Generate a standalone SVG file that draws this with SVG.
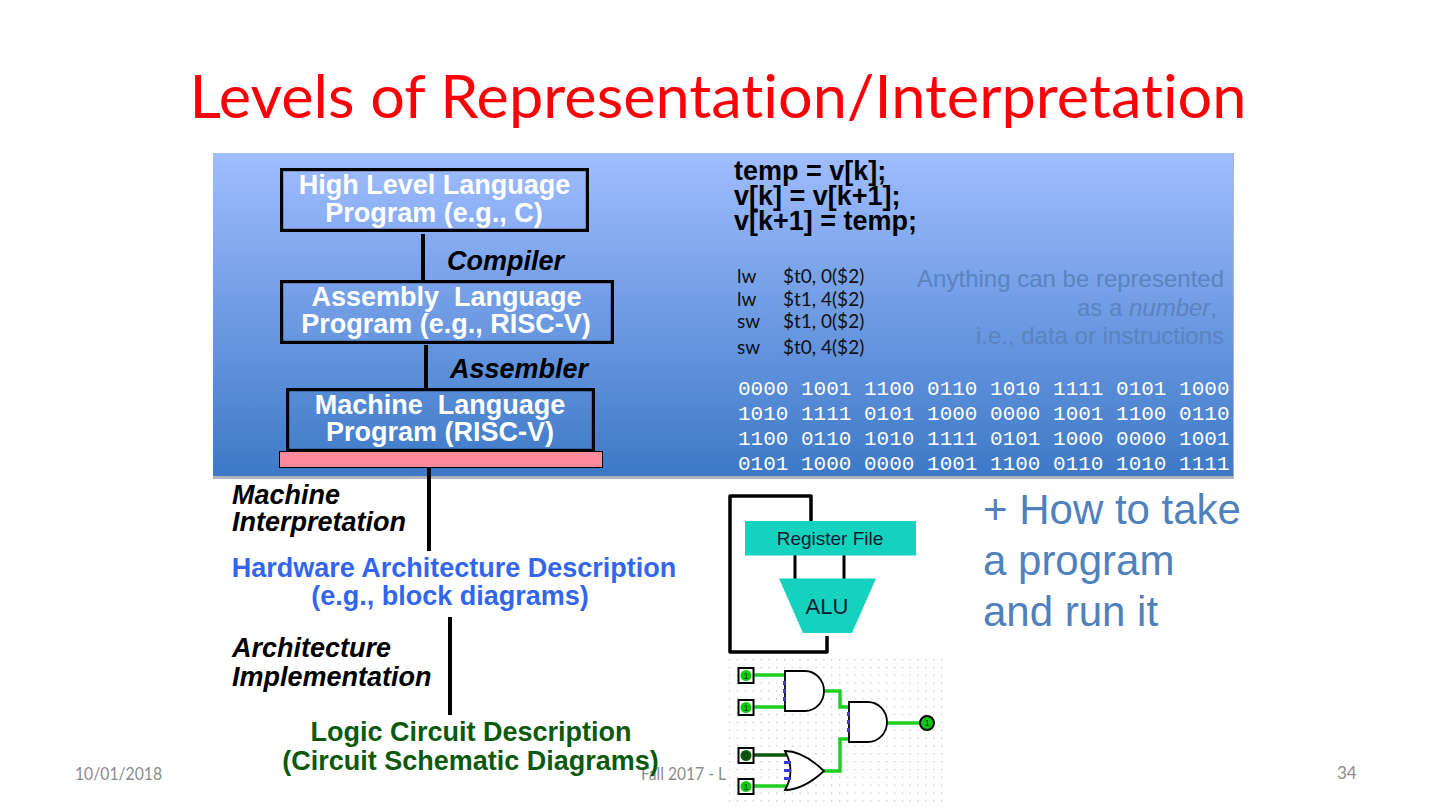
<svg xmlns="http://www.w3.org/2000/svg" width="1440" height="810" viewBox="0 0 1440 810">
<style>
.s{font-family:"Liberation Sans",Arial,sans-serif}
.b{font-family:"Liberation Sans",Arial,sans-serif;font-weight:700;font-size:27px}
.w{fill:#fff;text-anchor:middle}
.i{font-style:italic;fill:#000}
.box{fill:none;stroke:#000;stroke-width:3.2}
.lato{font-family:Lato,"Open Sans",sans-serif}
.asm{font-family:Lato,sans-serif;font-size:19px;fill:#111}
.bin{font-family:"Liberation Mono",monospace;font-size:21px;fill:#fff}
.c{stroke:#000;stroke-width:4;fill:none}
.g{stroke:#1fcf1f;stroke-width:3.5;fill:none}
.gate{fill:#fff;stroke:#000;stroke-width:1.8}
.pin{fill:#3a3ad0}
.foot{font-family:Lato,sans-serif;font-size:17px;fill:#8b8b8b}
.d{font-family:"Liberation Sans",sans-serif;font-size:9px;fill:#0a3a0a;text-anchor:middle}
</style>
<defs>
<linearGradient id="bg" x1="0" y1="0" x2="0" y2="1"><stop offset="0" stop-color="#a0bdff"/><stop offset="1" stop-color="#3d79c7"/></linearGradient>
<pattern id="dots" width="7.85" height="7.85" patternUnits="userSpaceOnUse" x="729" y="659"><rect x="0" y="0" width="1.2" height="1.2" fill="#bdbdbd"/></pattern>
</defs>
<rect width="1440" height="810" fill="#fff"/>
<text id="title" x="718" y="118" text-anchor="middle" class="lato" font-size="60" fill="#fb0007" textLength="1057" lengthAdjust="spacingAndGlyphs" style="font-variant-ligatures:none">Levels of Representation/Interpretation</text>
<text id="date" x="75" y="780" class="foot" textLength="87" lengthAdjust="spacingAndGlyphs">10/01/2018</text>
<text id="course" x="641" y="780" class="foot" textLength="85" lengthAdjust="spacingAndGlyphs">Fall 2017 - L</text>
<text id="page" x="1337" y="779" class="foot">34</text>
<g id="panel">
<rect x="213" y="153" width="1021" height="326" fill="#b0b4b8"/>
<rect x="213" y="153" width="1020" height="323" fill="url(#bg)"/>
</g>
<g id="connectors">
<path class="c" d="M423 234V280M426 345V388M429 468V551M450 617V715"/>
</g>
<g id="high-level">
<rect class="box" x="281.600" y="169.600" width="305.800" height="60.800"/>
<text class="b w" x="434.500" y="194">High Level Language</text>
<text class="b w" x="434" y="222">Program (e.g., C)</text>
</g>
<g id="compiler"><text class="b i" x="447" y="270">Compiler</text></g>
<g id="assembly">
<rect class="box" x="281.600" y="281.600" width="330.800" height="60.800"/>
<text class="b w" x="446.500" y="306">Assembly&#160; Language</text>
<text class="b w" x="446" y="333">Program (e.g., RISC-V)</text>
</g>
<g id="assembler"><text class="b i" x="450" y="378">Assembler</text></g>
<g id="machine">
<rect class="box" x="287.600" y="389.600" width="305.800" height="60.800"/>
<text class="b w" x="440" y="414">Machine&#160; Language</text>
<text class="b w" x="440" y="441">Program (RISC-V)</text>
</g>
<g id="machine-bar"><rect x="279.500" y="451.500" width="323" height="16" fill="#ff8a9c" stroke="#000" stroke-width="1"/></g>
<g id="hll-code" class="s" font-weight="700" font-size="27" fill="#000">
<text x="734" y="180">temp = v[k];</text>
<text x="734" y="205">v[k] = v[k+1];</text>
<text x="734" y="230">v[k+1] = temp;</text>
</g>
<g id="asm-code" class="asm">
<text x="737" y="283">lw</text><text x="783" y="283">$t0, 0($2)</text>
<text x="737" y="306">lw</text><text x="783" y="306">$t1, 4($2)</text>
<text x="737" y="328">sw</text><text x="783" y="328">$t1, 0($2)</text>
<text x="737" y="354">sw</text><text x="783" y="354">$t0, 4($2)</text>
</g>
<g id="number-note" class="s" font-size="24" fill="#5b83bf" text-anchor="end">
<text x="1224" y="287">Anything can be represented</text>
<text x="1217" y="316">as a <tspan font-style="italic">number</tspan>,</text>
<text x="1224" y="344">i.e., data or instructions</text>
</g>
<g id="binary" class="bin">
<text x="738" y="395">0000 1001 1100 0110 1010 1111 0101 1000</text>
<text x="738" y="420">1010 1111 0101 1000 0000 1001 1100 0110</text>
<text x="738" y="445">1100 0110 1010 1111 0101 1000 0000 1001</text>
<text x="738" y="470">0101 1000 0000 1001 1100 0110 1010 1111</text>
</g>
<g id="machine-interp"><text class="b i" x="232" y="504">Machine</text><text class="b i" x="232" y="531">Interpretation</text></g>
<g id="hardware" class="b" fill="#3366ee" text-anchor="middle">
<text x="454" y="577">Hardware Architecture Description</text>
<text x="450" y="605">(e.g., block diagrams)</text>
</g>
<g id="arch-impl"><text class="b i" x="232" y="657">Architecture</text><text class="b i" x="232" y="686">Implementation</text></g>
<g id="take-program" class="s" font-size="42" fill="#4f81bd">
<text x="983" y="524">+ How to take</text>
<text x="983" y="575">a program</text>
<text x="983" y="626">and run it</text>
</g>
<g id="logic-circuit" class="b" fill="#0b5a0b" text-anchor="middle">
<text x="471" y="741">Logic Circuit Description</text>
<text x="470.500" y="770">(Circuit Schematic Diagrams)</text>
</g>
<g id="datapath">
<path d="M811 521V496H730V652H827V636" fill="none" stroke="#000" stroke-width="3.500" stroke-linejoin="round"/>
<path d="M795 555V579M844 555V579" stroke="#000" stroke-width="3" fill="none"/>
<rect x="745" y="521" width="171" height="34.500" fill="#14d2bd"/>
<path d="M779 578.500H876L852 633H803Z" fill="#14d2bd"/>
<text class="s" x="830" y="545" text-anchor="middle" font-size="19" fill="#0a1a30">Register File</text>
<text class="s" x="827" y="614" text-anchor="middle" font-size="22" fill="#0a1a30">ALU</text>
</g>
<g id="circuit">
<rect x="727" y="656" width="219" height="154" fill="#fff"/>
<rect x="728" y="658" width="218" height="148" fill="url(#dots)"/>
<path class="g" d="M754 675H785M754 707H785M824 691H840V707H849M887 723H920M754 786H790M824 771H840V739H849"/>
<path d="M754 755H787" stroke="#0a5a0a" stroke-width="3.500" fill="none"/>
<g fill="#fff" stroke="#000" stroke-width="2">
<rect x="738.500" y="668" width="15" height="15"/><rect x="738.500" y="700" width="15" height="15"/><rect x="738.500" y="748" width="15" height="15"/><rect x="738.500" y="779" width="15" height="15"/>
</g>
<circle cx="746" cy="675.500" r="5.500" fill="#12c912"/><circle cx="746" cy="707.500" r="5.500" fill="#12c912"/><circle cx="746" cy="755.500" r="5.500" fill="#0a5a0a"/><circle cx="746" cy="786.500" r="5.500" fill="#12c912"/>
<circle cx="927" cy="723" r="7" fill="#12c912" stroke="#000" stroke-width="2"/>
<text class="d" x="746" y="679">1</text><text class="d" x="746" y="711">1</text><text class="d" x="746" y="759">0</text><text class="d" x="746" y="790">1</text><text class="d" x="927" y="726">1</text>
<path class="gate" d="M785 671H805A19 20 0 0 1 805 711H785Z"/>
<path class="gate" d="M849 702H868A19 20 0 0 1 868 742H849Z"/>
<path class="gate" d="M785 751Q803 751 824 771Q803 790 785 790Q796 771 785 751Z"/>
<path class="pin" d="M783 681h3v4h-3zM783 689h3v4h-3zM783 697h3v4h-3zM847 712h3v4h-3zM847 720h3v4h-3zM847 728h3v4h-3zM784 761h7v3h-7zM784 769h7v3h-7zM784 777h7v3h-7z"/>
</g>
</svg>
